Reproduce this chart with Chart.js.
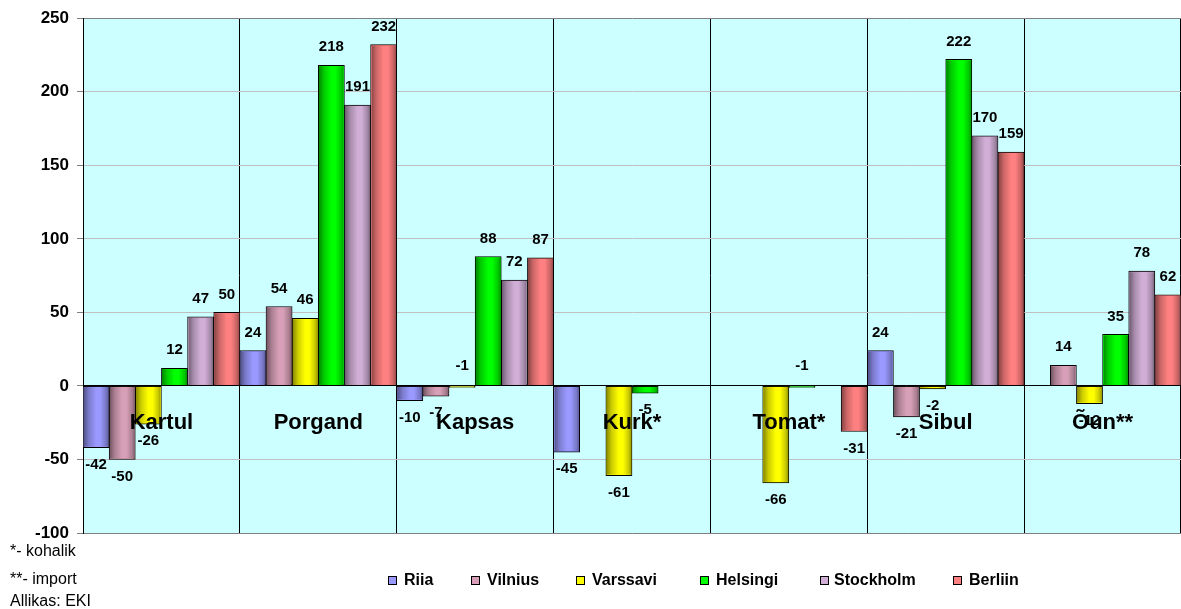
<!DOCTYPE html>
<html>
<head>
<meta charset="utf-8">
<script src="https://cdn.jsdelivr.net/npm/chart.js@4.4.1/dist/chart.umd.min.js"></script>
<style>
  html, body { margin: 0; padding: 0; background: #fff; }
  #wrap { width: 1181px; height: 609px; position: relative; }
</style>
</head>
<body>
<div id="wrap"><canvas id="c" width="1181" height="609"></canvas></div>
<script>
const categories = ['Kartul', 'Porgand', 'Kapsas', 'Kurk*', 'Tomat*', 'Sibul', 'Õun**'];
const seriesNames = ['Riia', 'Vilnius', 'Varssavi', 'Helsingi', 'Stockholm', 'Berliin'];
const riia      = [-42,  24, -10, -45, null,  24, null];
const vilnius   = [-50,  54,  -7, null, null, -21,  14];
const varssavi  = [-26,  46,  -1, -61, -66,  -2, -12];
const helsingi  = [ 12, 218,  88,  -5,  -1, 222,  35];
const stockholm = [ 47, 191,  72, null, null, 170,  78];
const berliin   = [ 50, 232,  87, null, -31, 159,  62];
const yTickMin = -100, yTickMax = 250, yTickStep = 50;
const notes = ['*- kohalik', '**- import', 'Allikas: EKI'];

const seriesValues = [riia, vilnius, varssavi, helsingi, stockholm, berliin];
const baseColors = [[153,153,255], [216,160,184], [255,255,0], [0,255,0], [208,174,214], [255,128,128]];
const FONT = "'Liberation Sans', Arial, Helvetica, sans-serif";

function rgb(c, f) {
  return 'rgb(' + c.map(v => Math.max(0, Math.min(255, Math.round(v * f)))).join(',') + ')';
}
// brightness profile across a bar (0 = left edge, 1 = right edge)
const shadeStops = [[0, 0.5], [0.22, 0.8], [0.5, 1], [0.66, 1], [0.88, 0.78], [1, 0.55]];
function shadeAt(t) {
  for (let k = 1; k < shadeStops.length; k++) {
    const [t1, f1] = shadeStops[k], [t0, f0] = shadeStops[k - 1];
    if (t <= t1) return f0 + (f1 - f0) * (t - t0) / (t1 - t0);
  }
  return shadeStops[shadeStops.length - 1][1];
}

const bgPlugin = {
  id: 'plotBg',
  beforeDraw(chart) {
    const { ctx, chartArea: a } = chart;
    ctx.save();
    ctx.fillStyle = '#CCFFFF';
    ctx.fillRect(a.left, a.top, a.right - a.left, a.bottom - a.top);
    ctx.restore();
  }
};

const labelPlugin = {
  id: 'labels',
  afterDatasetsDraw(chart) {
    const ctx = chart.ctx;
    const xs = chart.scales.x, ys = chart.scales.y;
    const y0 = ys.getPixelForValue(0);
    const catW = (xs.right - xs.left) / categories.length;
    const barW = catW / seriesValues.length;
    ctx.save();
    // shading of each bar, drawn as 1px solid columns inside its 1px border
    seriesValues.forEach((vals, di) => {
      const base = baseColors[di];
      vals.forEach((v, i) => {
        if (v === null || v === undefined) return;
        const left = xs.getPixelForValue(i) - catW / 2 + di * barW;
        const yv = ys.getPixelForValue(v);
        const top = Math.min(yv, y0) + 1, bot = Math.max(yv, y0) - 1;
        if (bot - top <= 0.5) return;
        const x0 = Math.round(left + 1), x1 = Math.round(left + barW - 1);
        for (let px = x0; px < x1; px++) {
          const t = (px + 0.5 - left) / barW;
          ctx.fillStyle = rgb(base, shadeAt(t));
          ctx.fillRect(px, top, 1, bot - top);
        }
      });
    });
    // data labels
    ctx.fillStyle = '#000';
    ctx.textAlign = 'center';
    ctx.textBaseline = 'middle';
    ctx.font = 'bold 15px ' + FONT;
    chart.data.datasets.forEach((ds, di) => {
      const meta = chart.getDatasetMeta(di);
      meta.data.forEach((el, i) => {
        const v = ds.data[i];
        if (v === null || v === undefined) return;
        let y;
        if (v >= 0) y = el.y - 18;
        else if (v >= -1) y = y0 - 20;
        else y = el.y + 17;
        ctx.fillText(String(v), el.x, y);
      });
    });
    // category names
    ctx.font = 'bold 22px ' + FONT;
    ctx.textBaseline = 'alphabetic';
    categories.forEach((c, i) => {
      ctx.fillText(c, xs.getPixelForValue(i), y0 + 43);
    });
    ctx.restore();
  }
};

const legendPlugin = {
  id: 'customLegend',
  afterDraw(chart) {
    const ctx = chart.ctx;
    ctx.save();
    ctx.fillStyle = '#000';
    ctx.font = '16px ' + FONT;
    ctx.textAlign = 'left';
    ctx.textBaseline = 'alphabetic';
    const noteY = [556, 584, 606];
    notes.forEach((t, i) => ctx.fillText(t, 10, noteY[i]));
    const sqX = [388, 471, 576, 700, 820, 953];
    const txX = [404, 487, 592, 716, 834, 969];
    const cy = 580;
    ctx.font = 'bold 16px ' + FONT;
    ctx.textBaseline = 'middle';
    seriesNames.forEach((name, i) => {
      ctx.fillStyle = rgb(baseColors[i], 1);
      ctx.fillRect(sqX[i] + 0.5, cy - 3.5, 8, 8);
      ctx.strokeStyle = '#000';
      ctx.lineWidth = 1;
      ctx.strokeRect(sqX[i] + 0.5, cy - 3.5, 8, 8);
      ctx.fillStyle = '#000';
      ctx.fillText(name, txX[i], cy + 1);
    });
    ctx.restore();
  }
};

new Chart(document.getElementById('c'), {
  type: 'bar',
  data: {
    labels: categories,
    datasets: seriesNames.map((name, i) => ({
      label: name,
      data: seriesValues[i],
      backgroundColor: rgb(baseColors[i], 1),
      borderColor: '#000',
      borderWidth: 1,
      borderSkipped: false,
      categoryPercentage: 1.0,
      barPercentage: 1.0
    }))
  },
  options: {
    responsive: false,
    animation: false,
    devicePixelRatio: 1,
    layout: { padding: { left: 0, right: 0, top: 18, bottom: 76 } },
    plugins: { legend: { display: false }, tooltip: { enabled: false } },
    scales: {
      x: {
        type: 'category',
        offset: true,
        grid: { offset: true, color: '#000', lineWidth: 1, drawTicks: false },
        ticks: { display: false },
        border: { display: true, color: '#808080', width: 1 },
        afterFit(s) { s.height = 0; }
      },
      y: {
        min: yTickMin,
        max: yTickMax,
        ticks: {
          stepSize: yTickStep,
          color: '#000',
          padding: 8,
          font: { family: FONT, size: 17, weight: 'bold' }
        },
        grid: {
          tickLength: 6,
          color(ctx) {
            const v = ctx.tick && ctx.tick.value;
            if (v === 0) return '#000';
            if (v === yTickMax) return '#808080';
            return '#C0C0C0';
          },
          tickColor: '#808080'
        },
        border: { display: true, color: '#000', width: 1 },
        afterFit(s) { s.width = 83; }
      }
    }
  },
  plugins: [bgPlugin, labelPlugin, legendPlugin]
});
</script>
</body>
</html>
